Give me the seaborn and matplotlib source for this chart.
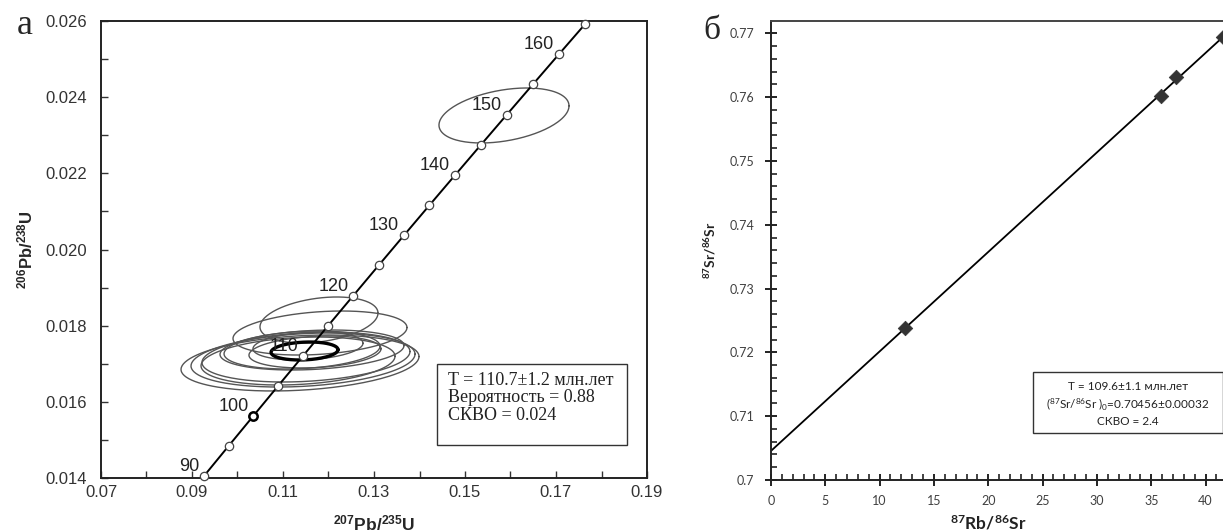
import numpy as np
import pandas as pd
import matplotlib
matplotlib.use("Agg")
import matplotlib.pyplot as plt
import matplotlib.ticker as mticker
import seaborn as sns
from matplotlib.patches import Rectangle

# ── Data: U-Pb concordia (panel a) ──────────────────────────────────────────

AGES   = [90, 95, 100, 105, 110, 115, 120, 125, 130, 135, 140, 145, 150, 155, 160, 165]
CONC_X = [0.09268, 0.09808, 0.10350, 0.10895, 0.11442, 0.11992, 0.12545, 0.13100,
          0.13658, 0.14219, 0.14783, 0.15350, 0.15920, 0.16492, 0.17067, 0.17645]
CONC_Y = [0.014059, 0.014846, 0.015633, 0.016422, 0.017210, 0.018000, 0.018789, 0.019580,
          0.020371, 0.021163, 0.021955, 0.022748, 0.023542, 0.024336, 0.025131, 0.025926]
LABEL_AGES = [90, 100, 110, 120, 130, 140, 150, 160]
X_TICKS = [0.07, 0.09, 0.11, 0.13, 0.15, 0.17, 0.19]

# error ellipses: centre, half-widths, correlation
ELL_X   = [0.11791, 0.11813, 0.11374, 0.11440, 0.11505, 0.11330, 0.11637, 0.11418, 0.11703, 0.11549, 0.15857]
ELL_Y   = [0.018149, 0.017807, 0.017020, 0.017098, 0.017177, 0.017072, 0.017361, 0.017361, 0.017309, 0.017466, 0.023519]
ELL_SX  = [0.01297, 0.01912, 0.02615, 0.02462, 0.02286, 0.02132, 0.02022, 0.01714, 0.01451, 0.01209, 0.01429]
ELL_SY  = [0.000604, 0.000578, 0.000735, 0.000709, 0.000656, 0.000630, 0.000525, 0.000499, 0.000420, 0.000368, 0.000722]
ELL_RHO = [0.30, 0.25, 0.23, 0.22, 0.22, 0.20, 0.22, 0.20, 0.20, 0.20, 0.35]

# concordia age ellipse (bold)
BEST_X, BEST_Y, BEST_SX, BEST_SY, BEST_RHO = 0.11473, 0.017335, 0.00736, 0.000236, 0.15

# ── Data: Rb-Sr isochron (panel б) ──────────────────────────────────────────

RB_X = [12.35, 35.9, 37.3, 41.6]
SR_Y = [0.7238, 0.7602, 0.7632, 0.7695]
ISO_X = [0, 45]
ISO_Y = [0.70456, 0.77472]


def ellipse_df(cx, cy, sx, sy, rho, n=200):
    t = np.linspace(0, 2 * np.pi, n)
    return pd.DataFrame({
        "x": cx + sx * np.cos(t),
        "y": cy + sy * (rho * np.cos(t) + np.sqrt(1 - rho ** 2) * np.sin(t)),
        "t": t,
    })


sns.set_style("ticks")
plt.rcParams["font.family"] = ["Liberation Sans", "DejaVu Sans"]

fig = plt.figure(figsize=(12.23, 5.32), dpi=100)

# ── Panel a ─────────────────────────────────────────────────────────────────
ax1 = fig.add_axes([101 / 1223, 1 - 478 / 532, 546 / 1223, 457 / 532])

for cx, cy, sx, sy, r in zip(ELL_X, ELL_Y, ELL_SX, ELL_SY, ELL_RHO):
    e = ellipse_df(cx, cy, sx, sy, r)
    sns.lineplot(data=e, x="x", y="y", sort=False, estimator=None, ax=ax1,
                 color="#555555", linewidth=1.0)

e = ellipse_df(BEST_X, BEST_Y, BEST_SX, BEST_SY, BEST_RHO)
sns.lineplot(data=e, x="x", y="y", sort=False, estimator=None, ax=ax1,
             color="black", linewidth=2.4)

conc = pd.DataFrame({"age": AGES, "x": CONC_X, "y": CONC_Y})
sns.lineplot(data=conc, x="x", y="y", sort=False, estimator=None, ax=ax1,
             color="black", linewidth=1.4, zorder=3)
ax1.plot(conc["x"], conc["y"], linestyle="none", marker="o", markersize=6,
         markerfacecolor="white", markeredgecolor="#444444", markeredgewidth=0.9,
         zorder=4, clip_on=False)
# 100 Ma point is drawn heavier
m100 = conc[conc["age"] == 100]
ax1.plot(m100["x"], m100["y"], linestyle="none", marker="o", markersize=6,
         markerfacecolor="white", markeredgecolor="black", markeredgewidth=1.8, zorder=5)

for _, row in conc[conc["age"].isin(LABEL_AGES)].iterrows():
    ax1.annotate(f"{int(row['age'])}", (row["x"], row["y"]), xytext=(-5, 5),
                 textcoords="offset pixels", ha="right", va="baseline",
                 fontsize=13, color="#222222", zorder=6)

ax1.set_xlim(0.07, 0.19)
ax1.set_ylim(0.014, 0.026)
ax1.xaxis.set_major_locator(mticker.FixedLocator(X_TICKS))
ax1.xaxis.set_minor_locator(mticker.MultipleLocator(0.01))
ax1.yaxis.set_major_locator(mticker.MultipleLocator(0.002))
ax1.yaxis.set_minor_locator(mticker.MultipleLocator(0.001))
ax1.xaxis.set_major_formatter(mticker.FormatStrFormatter("%.2f"))
ax1.yaxis.set_major_formatter(mticker.FormatStrFormatter("%.3f"))
ax1.tick_params(axis="both", which="both", direction="in", length=5, width=1,
                color="#333333", labelsize=12, labelcolor="#333333")
ax1.tick_params(axis="y", which="both", pad=10)
ax1.tick_params(axis="x", which="both", pad=5)
for s in ax1.spines.values():
    s.set_visible(True)
    s.set_linewidth(1.4)
    s.set_color("#222222")

ax1.set_xlabel(r"$\mathregular{^{207}Pb/^{235}U}$", fontsize=12.5, fontweight="bold")
ax1.set_ylabel(r"$\mathregular{^{206}Pb/^{238}U}$", fontsize=12, fontweight="bold")
ax1.xaxis.set_label_coords(0.5, -0.078)
ax1.yaxis.set_label_coords(-0.12, 0.5)

ax1.add_patch(Rectangle((0.14385, 0.014867), 0.04175, 0.002133, fill=False,
                        edgecolor="#333333", linewidth=1.0, zorder=6))
box_lines = ["T = 110.7±1.2 млн.лет", "Вероятность = 0.88", "СКВО = 0.024"]
for i, line in enumerate(box_lines):
    ax1.text(0.1462, 0.01657 - i * 0.00046, line, family=["Liberation Serif", "DejaVu Serif"],
             fontsize=13, color="#222222", va="center", ha="left", zorder=7)

# ── Panel б ─────────────────────────────────────────────────────────────────
ax2 = fig.add_axes([771 / 1223, 1 - 480 / 532, 478 / 1223, 459 / 532])

iso = pd.DataFrame({"x": ISO_X, "y": ISO_Y})
sns.lineplot(data=iso, x="x", y="y", ax=ax2, color="black", linewidth=1.3)
pts = pd.DataFrame({"x": RB_X, "y": SR_Y})
sns.scatterplot(data=pts, x="x", y="y", ax=ax2, marker="D", s=55,
                color="#333333", edgecolor="#333333", linewidth=0.5, zorder=4)

ax2.set_xlim(0, 44)
ax2.set_ylim(0.70, 0.77193)
ax2.xaxis.set_major_locator(mticker.MultipleLocator(5))
ax2.xaxis.set_minor_locator(mticker.MultipleLocator(1))
ax2.yaxis.set_major_locator(mticker.MultipleLocator(0.01))
ax2.yaxis.set_minor_locator(mticker.MultipleLocator(0.002))
ax2.yaxis.set_major_formatter(mticker.FuncFormatter(lambda v, _: f"{v:.2f}".rstrip("0").rstrip(".") if v != 0.7 else "0.7"))
ax2.tick_params(axis="both", which="major", direction="inout", length=8, width=1.4,
                color="#222222", labelsize=9, labelcolor="#404040")
ax2.tick_params(axis="both", which="minor", direction="in", length=4, width=1.2, color="#222222")
ax2.tick_params(axis="y", which="major", pad=8)
ax2.tick_params(axis="x", which="major", pad=7)
for s in ax2.spines.values():
    s.set_visible(True)
    s.set_linewidth(1.4)
    s.set_color("#222222")
ax2.spines["top"].set_color("#444444")

ax2.set_xlabel(r"$\mathregular{^{87}Rb/^{86}Sr}$", fontsize=12.5, fontweight="bold",
               family=["Lato", "DejaVu Sans"], color="#222222")
ax2.set_ylabel(r"$\mathregular{^{87}Sr/^{86}Sr}$", fontsize=10, fontweight="bold",
               family=["Lato", "DejaVu Sans"], color="#222222")
ax2.xaxis.set_label_coords(0.455, -0.074)
ax2.yaxis.set_label_coords(-0.11, 0.5)
for lab in ax2.get_xticklabels() + ax2.get_yticklabels():
    lab.set_family(["Lato", "DejaVu Sans"])

ax2.add_patch(Rectangle((24.1, 0.70734), 17.5, 0.00954, fill=False,
                        edgecolor="#333333", linewidth=1.0, zorder=6))
iso_lines = ["T = 109.6±1.1 млн.лет",
             r"($\mathregular{^{87}}$Sr/$\mathregular{^{86}}$Sr )$\mathregular{_0}$=0.70456±0.00032",
             "СКВО = 2.4"]
for i, line in enumerate(iso_lines):
    ax2.text(32.85, 0.7147 - i * 0.0028, line, family=["Lato", "DejaVu Sans"],
             fontsize=8.5, color="#222222", ha="center", va="center", zorder=7)

# panel letters
fig.text(25 / 1223, 1 - 25 / 532, "а", family=["Liberation Serif", "DejaVu Serif"],
         fontsize=26, ha="center", va="center")
fig.text(712 / 1223, 1 - 31 / 532, "б", family=["Liberation Serif", "DejaVu Serif"],
         fontsize=24, ha="center", va="center")

fig.savefig("out.png", dpi=100)
